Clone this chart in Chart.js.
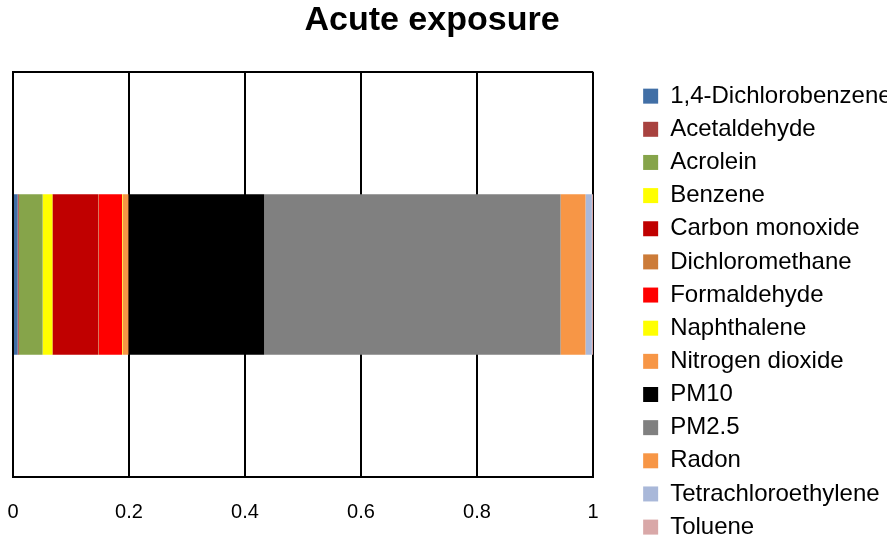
<!DOCTYPE html>
<html>
<head>
<meta charset="utf-8">
<script src="https://cdn.jsdelivr.net/npm/chart.js@4/dist/chart.umd.min.js"></script>
<style>
  html, body { margin: 0; padding: 0; background: #fff; }
  #wrap { width: 887px; height: 538px; position: relative; }
</style>
</head>
<body>
<div id="wrap"><canvas id="chart"></canvas></div>
<script>
// single stacked bar, fractions of the total
const categories = [''];
const seriesNames = [
  '1,4-Dichlorobenzene', 'Acetaldehyde', 'Acrolein', 'Benzene', 'Carbon monoxide',
  'Dichloromethane', 'Formaldehyde', 'Naphthalene', 'Nitrogen dioxide', 'PM10',
  'PM2.5', 'Radon', 'Tetrachloroethylene', 'Toluene'
];
const seriesValues = [
  0.008, 0.002, 0.041, 0.017, 0.079,
  0.001, 0.040, 0.001, 0.010, 0.234,
  0.511, 0.043, 0.011, 0.002
];
const seriesColors = [
  '#416FA6', '#A8423F', '#86A44A', '#FFFF00', '#C00000',
  '#CC7B38', '#FF0000', '#FFFF00', '#F79646', '#000000',
  '#808080', '#F79646', '#A9B8D9', '#D9A8A8'
];
const xTicks = [0, 0.2, 0.4, 0.6, 0.8, 1];

const font = 'Liberation Sans, Arial, sans-serif';

const datasets = seriesNames.map((name, i) => ({
  label: name,
  data: [seriesValues[i]],
  backgroundColor: seriesColors[i],
  borderWidth: 0,
  barPercentage: 1,
  categoryPercentage: 0.396
}));

// nudge legend down and title left, like the original layout
const nudge = {
  id: 'nudge',
  afterLayout(chart) {
    chart.legend.top += 75;
    chart.legend.bottom += 75;
    chart.titleBlock.right -= 23;
  }
};

new Chart(document.getElementById('chart'), {
  type: 'bar',
  data: { labels: categories, datasets },
  plugins: [nudge],
  options: {
    indexAxis: 'y',
    responsive: true,
    maintainAspectRatio: false,
    animation: false,
    layout: { padding: 0 },
    plugins: {
      title: {
        display: true,
        text: 'Acute exposure',
        color: '#000',
        font: { family: font, size: 34, weight: 'bold' },
        padding: { top: 0, bottom: 31 }
      },
      legend: {
        position: 'right',
        align: 'start',
        maxWidth: 253,
        labels: {
          color: '#000',
          font: { family: font, size: 24 },
          boxWidth: 15,
          boxHeight: 15,
          padding: 9.15
        }
      },
      tooltip: { enabled: false }
    },
    scales: {
      x: {
        stacked: true,
        min: 0,
        max: 1,
        afterBuildTicks: (s) => { s.ticks = xTicks.map(v => ({ value: v })); },
        afterFit: (s) => { s.height = 61; },
        grid: { color: '#000', lineWidth: 2, drawTicks: true, tickLength: 23, tickColor: 'rgba(0,0,0,0)' },
        border: { color: '#000', width: 2 },
        ticks: {
          color: '#000',
          font: { family: font, size: 20 },
          padding: 0,
          callback: (v) => String(v)
        }
      },
      y: {
        stacked: true,
        afterFit: (s) => { s.width = 13; },
        grid: { color: '#000', lineWidth: 2, drawTicks: false },
        border: { color: '#000', width: 2 },
        ticks: { display: false }
      },
      gap: {
        position: 'right',
        axis: 'y',
        grid: { display: false, drawTicks: false },
        border: { display: false },
        ticks: { display: false },
        afterFit: (s) => { s.width = 41; }
      }
    }
  }
});
</script>
</body>
</html>
